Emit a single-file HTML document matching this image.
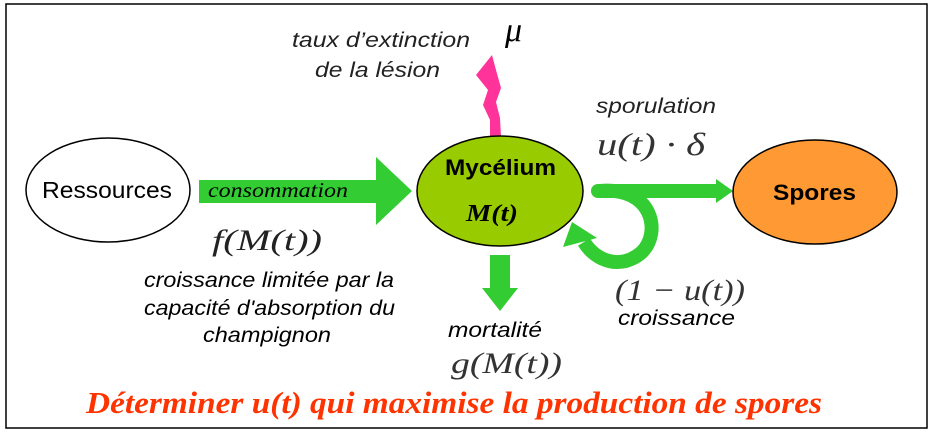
<!DOCTYPE html>
<html><head><meta charset="utf-8"><style>
html,body{margin:0;padding:0;background:#fff;}
svg{display:block;}
.sans{font-family:"Liberation Sans",sans-serif;}
.serif{font-family:"Liberation Serif",serif;}
</style></head><body>
<svg width="941" height="435" viewBox="0 0 941 435" xmlns="http://www.w3.org/2000/svg">
<rect x="6" y="4" width="921" height="424" fill="#fff" stroke="#000" stroke-width="1.5"/>

<g>
<ellipse cx="108" cy="190" rx="82" ry="52" fill="#fff" stroke="#000" stroke-width="1.5"/>
<text x="42" y="198" textLength="130" lengthAdjust="spacingAndGlyphs" class="sans" font-size="23">Ressources</text>
</g>

<g>
<polygon points="199,180 376,180 376,157 412,191 376,225 376,203 199,203" fill="#33cc33"/>
<text x="208" y="197" textLength="140" lengthAdjust="spacingAndGlyphs" class="serif" font-style="italic" font-size="21">consommation</text>
</g>
<text x="212" y="250" textLength="110" lengthAdjust="spacingAndGlyphs" class="serif" font-style="italic" font-size="30" fill="#222">f(M(t))</text>
<g class="sans" font-style="italic" font-size="21">
<text x="144" y="287" textLength="250" lengthAdjust="spacingAndGlyphs">croissance limitée par la</text>
<text x="144" y="315" textLength="251" lengthAdjust="spacingAndGlyphs">capacité d'absorption du</text>
<text x="203" y="342" textLength="128" lengthAdjust="spacingAndGlyphs">champignon</text>
</g>

<polygon points="492,55 476,75 488,90 483,105 490,120 490,137 501,137 500,118 496,102 501,88 496,70" fill="#ff3399"/>
<text x="505" y="41" class="serif" font-style="italic" font-size="34">μ</text>
<g class="sans" font-style="italic" font-size="21" fill="#222">
<text x="292" y="47" textLength="178" lengthAdjust="spacingAndGlyphs">taux d’extinction</text>
<text x="315" y="77" textLength="125" lengthAdjust="spacingAndGlyphs">de la lésion</text>
</g>

<g>
<ellipse cx="500" cy="191" rx="83" ry="55" fill="#99cc00" stroke="#000" stroke-width="1.5"/>
<text x="445" y="175" textLength="111" lengthAdjust="spacingAndGlyphs" class="sans" font-weight="bold" font-size="22">Mycélium</text>
<text x="466" y="221" textLength="52" lengthAdjust="spacingAndGlyphs" class="serif" font-weight="bold" font-style="italic" font-size="24">M(t)</text>
</g>

<text x="596" y="113" textLength="120" lengthAdjust="spacingAndGlyphs" class="sans" font-style="italic" font-size="21" fill="#222">sporulation</text>
<text x="597" y="155" textLength="108" lengthAdjust="spacingAndGlyphs" class="serif" font-style="italic" font-size="32" fill="#333">u(t) · δ</text>

<g>
<path d="M598,191 L718,191" stroke="#33cc33" stroke-width="14" stroke-linecap="round" fill="none"/>
<polygon points="716,179 733,191 716,203" fill="#33cc33"/>
</g>
<g>
<path d="M600,191 C652,186 662,232 642,252 C622,270 596,262 584,242" stroke="#33cc33" stroke-width="14" fill="none"/>
<polygon points="563,247 572,222 597,238" fill="#33cc33"/>
</g>

<g>
<ellipse cx="815" cy="192" rx="82" ry="52" fill="#ff9933" stroke="#000" stroke-width="1.5"/>
<text x="773" y="200" textLength="83" lengthAdjust="spacingAndGlyphs" class="sans" font-weight="bold" font-size="22">Spores</text>
</g>

<text x="615" y="300" textLength="130" lengthAdjust="spacingAndGlyphs" class="serif" font-style="italic" font-size="30" fill="#333">(1 − u(t))</text>
<text x="618" y="325" textLength="117" lengthAdjust="spacingAndGlyphs" class="sans" font-style="italic" font-size="21">croissance</text>

<polygon points="490,255 510,255 510,288 518,288 500,311 482,288 490,288" fill="#33cc33"/>
<text x="448" y="337" textLength="94" lengthAdjust="spacingAndGlyphs" class="sans" font-style="italic" font-size="21">mortalité</text>
<text x="451" y="373" textLength="111" lengthAdjust="spacingAndGlyphs" class="serif" font-style="italic" font-size="30" fill="#333">g(M(t))</text>

<text x="86" y="413" textLength="736" lengthAdjust="spacingAndGlyphs" class="serif" font-weight="bold" font-style="italic" font-size="31" fill="#ff3300">Déterminer u(t) qui maximise la production de spores</text>
</svg>
</body></html>
